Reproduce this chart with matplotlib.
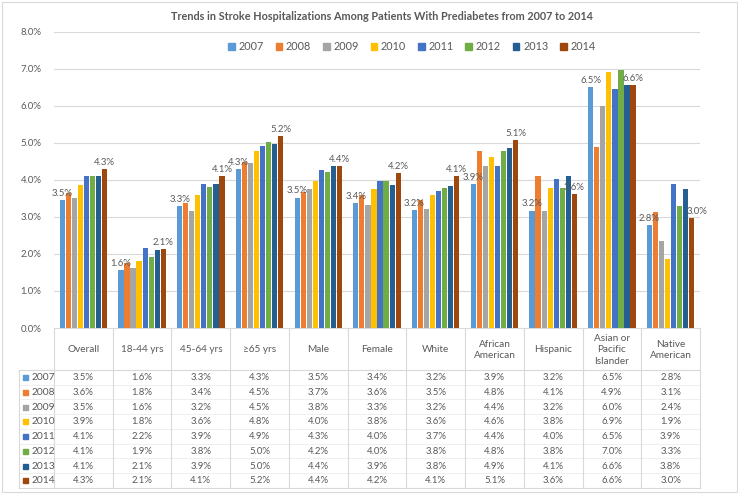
import numpy as np
import matplotlib
matplotlib.use("Agg")
import matplotlib.pyplot as plt
from matplotlib.patches import Patch, Rectangle

plt.rcParams['font.family'] = ['Lato', 'DejaVu Sans']

categories = ["Overall", "18-44 yrs", "45-64 yrs", "≥65 yrs", "Male", "Female", "White",
              "African\nAmerican", "Hispanic", "Asian or\nPacific\nIslander", "Native\nAmerican"]
years = ["2007", "2008", "2009", "2010", "2011", "2012", "2013", "2014"]

# stroke hospitalization rate (%), one list per year, in category order
y2007 = [3.46, 1.56, 3.30, 4.30, 3.52, 3.38, 3.18, 3.88, 3.17, 6.50, 2.79]
y2008 = [3.63, 1.76, 3.38, 4.48, 3.66, 3.58, 3.46, 4.77, 4.11, 4.89, 3.13]
y2009 = [3.52, 1.63, 3.16, 4.46, 3.75, 3.31, 3.22, 4.36, 3.17, 5.99, 2.36]
y2010 = [3.86, 1.81, 3.60, 4.77, 3.96, 3.76, 3.59, 4.61, 3.77, 6.91, 1.86]
y2011 = [4.09, 2.16, 3.88, 4.91, 4.27, 3.96, 3.70, 4.38, 4.01, 6.46, 3.89]
y2012 = [4.09, 1.92, 3.80, 5.03, 4.20, 3.97, 3.79, 4.78, 3.77, 6.97, 3.29]
y2013 = [4.11, 2.10, 3.88, 4.96, 4.38, 3.86, 3.82, 4.86, 4.11, 6.56, 3.76]
y2014 = [4.28, 2.12, 4.09, 5.19, 4.38, 4.17, 4.10, 5.07, 3.62, 6.56, 2.96]
series = [y2007, y2008, y2009, y2010, y2011, y2012, y2013, y2014]

colors = ["#5B9BD5", "#ED7D31", "#A5A5A5", "#FFC000", "#4472C4", "#70AD47", "#255E91", "#9E480E"]
yticks = [0, 1, 2, 3, 4, 5, 6, 7, 8]

W, H = 738, 499
txt = "#595959"
line_c = "#d9d9d9"

fig = plt.figure(figsize=(W / 100, H / 100), dpi=100)

# layout in pixels
plot_l, plot_r = 54, 700
y_zero, y_top = 328, 31.5
header_bot = 370
row_h = 14.7
tab_left = 19

# background layer for table / frame, pixel coordinates
bg = fig.add_axes([0, 0, 1, 1])
bg.set_xlim(0, W)
bg.set_ylim(H, 0)
bg.axis("off")
bg.add_patch(Rectangle((1.5, 1.5), 735, 490.5, fill=False, ec="#d9d9d9", lw=0.8))

ax = fig.add_axes([plot_l / W, 1 - y_zero / H, (plot_r - plot_l) / W, (y_zero - y_top) / H])
n = len(categories)
x = np.arange(n)
slot = 0.103
bw = 0.088
for i, (vals, c) in enumerate(zip(series, colors)):
    pos = x + (i - 3.5) * slot
    ax.bar(pos, vals, width=bw, color=c, zorder=3)
    if i == 0 or i == len(series) - 1:
        for k, (px, v) in enumerate(zip(pos, vals)):
            # last label nudged right so the taller 2013 bar doesn't hide it
            dx = 4 if (i == len(series) - 1 and k == n - 1) else 0
            ax.annotate(f"{v:.1f}%", (px, v), xytext=(dx, 1.5), textcoords="offset points",
                        ha="center", va="bottom", fontsize=6.9, color=txt, zorder=4,
                        annotation_clip=False)

ax.set_xlim(-0.5, n - 0.5)
ax.set_ylim(0, 8)
ax.set_yticks(yticks)
ax.set_yticklabels([f"{t:.1f}%" for t in yticks], fontsize=6.9, color=txt)
ax.tick_params(axis="y", length=0, pad=9)
ax.set_xticks([])
ax.grid(axis="y", color=line_c, lw=0.8, zorder=0)
for s in ax.spines.values():
    s.set_visible(False)

# data table under the plot
col_w = (plot_r - plot_l) / n
tab_bot = header_bot + row_h * len(years)
bg.plot([plot_l, plot_r], [y_zero, y_zero], color=line_c, lw=0.8)
for k in range(n + 1):
    xx = plot_l + k * col_w
    bg.plot([xx, xx], [y_zero, tab_bot], color=line_c, lw=0.8)
bg.plot([tab_left, tab_left], [header_bot, tab_bot], color=line_c, lw=0.8)
for r in range(len(years) + 1):
    yy = header_bot + r * row_h
    inner = 0 < r < len(years)
    bg.plot([tab_left, plot_r], [yy, yy], color=line_c, lw=0.6 if inner else 0.8,
            alpha=0.5 if inner else 1)

for k, cat in enumerate(categories):
    cx = plot_l + (k + 0.5) * col_w
    bg.text(cx, (y_zero + header_bot) / 2 + 1, cat, ha="center", va="center",
            fontsize=7.2, color=txt, linespacing=1.35)

for r, (yr, vals, c) in enumerate(zip(years, series, colors)):
    cy = header_bot + (r + 0.5) * row_h + 0.5
    bg.add_patch(Rectangle((22.5, cy - 2.5), 5, 5, color=c))
    bg.text(31.5, cy, yr, ha="left", va="center", fontsize=7.4, color=txt)
    for k, v in enumerate(vals):
        cx = plot_l + (k + 0.5) * col_w
        bg.text(cx, cy, f"{v:.1f}%", ha="center", va="center", fontsize=6.9, color=txt)

fig.text(382 / W, 1 - 17 / H,
         "Trends in Stroke Hospitalizations Among Patients With Prediabetes from 2007 to 2014",
         ha="center", va="center", fontsize=7.8, fontweight="bold", color=txt)

handles = [Patch(color=c, label=y) for y, c in zip(years, colors)]
fig.legend(handles=handles, loc="center", bbox_to_anchor=(412 / W, 1 - 46.5 / H), ncol=8,
           frameon=False, fontsize=7.8, handlelength=0.6, handleheight=0.6,
           handletextpad=0.35, columnspacing=1.1, labelcolor=txt)

fig.savefig("out.png", dpi=100, facecolor="white")
